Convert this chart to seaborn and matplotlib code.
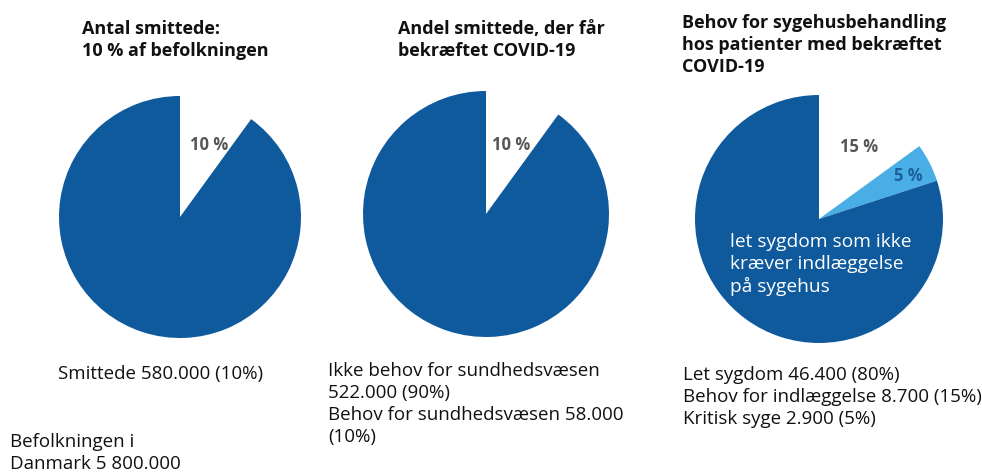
import matplotlib
matplotlib.use("Agg")
import matplotlib.pyplot as plt
import seaborn as sns

# ---- data ----
pie1_values = [10, 90]
pie1_labels = ["10 %", ""]
pie2_values = [10, 90]
pie2_labels = ["10 %", ""]
pie3_values = [15, 5, 80]
pie3_labels = ["15 %", "5 %", ""]

titles = [
    "Antal smittede:\n10 % af befolkningen",
    "Andel smittede, der får\nbekræftet COVID-19",
    "Behov for sygehusbehandling\nhos patienter med bekræftet\nCOVID-19",
]
captions = [
    "Smittede 580.000 (10%)",
    "Ikke behov for sundhedsvæsen\n522.000 (90%)\nBehov for sundhedsvæsen 58.000\n(10%)",
    "Let sygdom 46.400 (80%)\nBehov for indlæggelse 8.700 (15%)\nKritisk syge 2.900 (5%)",
]
footnote = "Befolkningen i\nDanmark 5 800.000"
inner_text = "let sygdom som ikke\nkræver indlæggelse\npå sygehus"

DARK = "#0f5a9d"
LIGHT = "#4aaee6"
BG = "white"

sns.set_theme(style="white")
plt.rcParams["font.family"] = ["Open Sans", "DejaVu Sans"]

W, H = 982, 474
fig = plt.figure(figsize=(W / 100, H / 100), dpi=100, facecolor=BG)


def px_text(x, y, s, **kw):
    return fig.text(x / W, 1 - y / H, s, **kw)


def pie_axes(cx, cy, r):
    ax = fig.add_axes([(cx - r) / W, (H - cy - r) / H, 2 * r / W, 2 * r / H])
    ax.set_facecolor("none")
    return ax


def draw_pie(ax, values, colors):
    ax.pie(values, colors=colors, startangle=90, counterclock=False,
           radius=1, wedgeprops=dict(linewidth=0))
    ax.set_xlim(-1, 1)
    ax.set_ylim(-1, 1)
    ax.set_aspect("auto")
    ax.axis("off")


ax1 = pie_axes(180, 217, 121)
draw_pie(ax1, pie1_values, [BG, DARK])
ax2 = pie_axes(486, 214, 123)
draw_pie(ax2, pie2_values, [BG, DARK])
ax3 = pie_axes(819, 219, 124)
draw_pie(ax3, pie3_values, [BG, LIGHT, DARK])

# slice labels
lab_kw = dict(fontsize=12, fontweight="bold", va="center")
px_text(190, 145, pie1_labels[0], color="#555555", **lab_kw)
px_text(492, 145, pie2_labels[0], color="#555555", **lab_kw)
px_text(840, 147, pie3_labels[0], color="#555555", **lab_kw)
px_text(894, 176, pie3_labels[1], color="#1d5f9c", **lab_kw)

px_text(730, 233, inner_text, fontsize=13.8, color="white", va="top", linespacing=1.28)

# titles
title_kw = dict(fontsize=13, fontweight="bold", color="#111111", va="top", linespacing=1.3)
px_text(82, 20, titles[0], **title_kw)
px_text(398, 20, titles[1], **title_kw)
px_text(682, 14, titles[2], **title_kw)

# captions
cap_kw = dict(fontsize=13.5, color="#111111", va="top", linespacing=1.28)
px_text(58, 365, captions[0], **cap_kw)
px_text(328, 362, captions[1], **cap_kw)
px_text(683, 366, captions[2], **cap_kw)
px_text(10, 433, footnote, **cap_kw)

fig.savefig("out.png", dpi=100, facecolor=BG)
